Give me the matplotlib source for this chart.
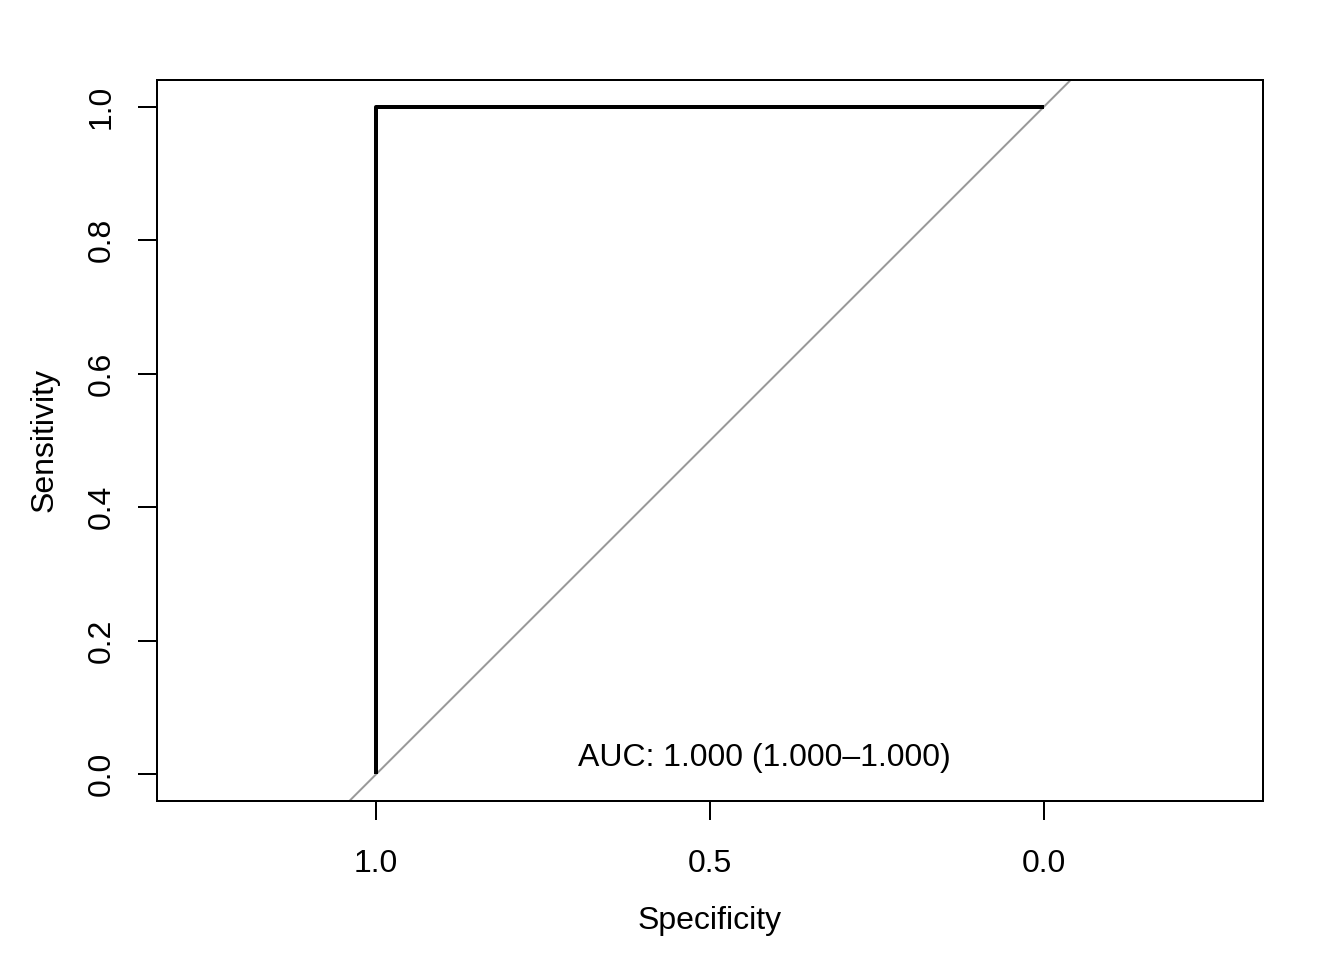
import matplotlib
matplotlib.use("Agg")
import matplotlib.pyplot as plt

plt.rcParams['font.family'] = ['Liberation Sans', 'DejaVu Sans']

specificity = [1.0, 1.0, 0.0]
sensitivity = [0.0, 1.0, 1.0]
auc_text = "AUC: 1.000 (1.000\u20131.000)"
xticks = [1.0, 0.5, 0.0]
yticks = [0.0, 0.2, 0.4, 0.6, 0.8, 1.0]

fig = plt.figure(figsize=(7, 5), dpi=192)
ax = fig.add_axes([157/1344, 1-801/960, (1263-157)/1344, (801-80)/960])

xlim = (1.328, -0.328)
ylim = (-0.04, 1.04)
ax.set_xlim(*xlim)
ax.set_ylim(*ylim)

# diagonal reference line (abline)
ax.plot([1.5, -0.5], [-0.5, 1.5], color='#999999', lw=0.75, zorder=1)
ax.plot(specificity, sensitivity, color='black', lw=1.5, zorder=2, solid_capstyle='butt')

ax.text(0.418, 0.025, auc_text, ha='center', va='center', fontsize=12)

ax.set_xticks(xticks)
ax.set_xticklabels([f"{v:.1f}" for v in xticks])
ax.set_yticks(yticks)
ax.set_yticklabels([f"{v:.1f}" for v in yticks], rotation=90, va='center')

ax.tick_params(axis='both', direction='out', length=7.1, width=0.75, labelsize=12)
ax.tick_params(axis='x', pad=10.8)
ax.tick_params(axis='y', pad=8)
for s in ax.spines.values():
    s.set_linewidth(0.75)

ax.set_xlabel("Specificity", fontsize=12)
ax.set_ylabel("Sensitivity", fontsize=12)
ax.xaxis.set_label_coords(0.5, -(921-801)/721, transform=ax.transAxes)
ax.yaxis.set_label_coords(-(157-45)/1106, 0.5, transform=ax.transAxes)
ax.xaxis.label.set_va('center')
ax.yaxis.label.set_va('center')

fig.savefig("out.png", dpi=192)
